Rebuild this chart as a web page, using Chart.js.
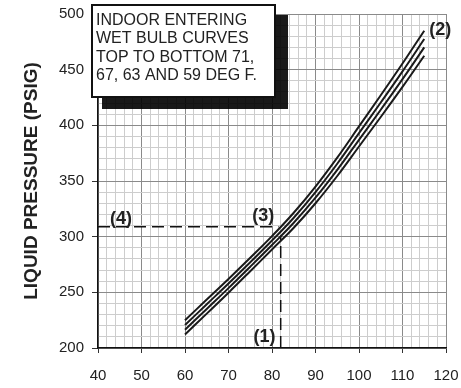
<!DOCTYPE html>
<html>
<head>
<meta charset="utf-8">
<script src="https://cdn.jsdelivr.net/npm/chart.js@4.4.1/dist/chart.umd.min.js"></script>
<style>
html, body { margin: 0; padding: 0; background: #fff; }
</style>
</head>
<body>
<canvas id="pressureChart" width="461" height="388"></canvas>
<script>
// outdoor temperature (deg F) along the bottom
var outdoorTemps = [60, 65, 70, 75, 80, 85, 90, 95, 100, 105, 110, 115];

// liquid pressure for each indoor wet bulb curve
var wb71 = [225, 243.5, 262, 281, 300.5, 321.5, 345, 371, 399, 427, 455.5, 485];
var wb67 = [220.7, 239.3, 257.9, 277, 296.5, 317, 340, 365.5, 393, 420.5, 448.5, 477.5];
var wb63 = [216.4, 235.1, 253.8, 273, 292.5, 312.5, 335, 360, 387, 414, 441.5, 470];
var wb59 = [212.1, 230.9, 249.7, 269, 288.5, 308, 330, 354.5, 381, 407.5, 434.5, 462.5];

// example reading lines
var readX = [40, 81.5];
var readY = [309, 309];
var tempX = [82, 82];
var tempY = [200, 301];

var markerText = ['(1)', '(2)', '(3)', '(4)'];
var markerX = [78.3, 118.7, 78, 45.3];
var markerY = [210, 485.5, 318.5, 316];

var noteLines = ['INDOOR ENTERING', 'WET BULB CURVES', 'TOP TO BOTTOM 71,', '67, 63 AND 59 DEG F.'];

var FONT = "'Liberation Sans', Arial, sans-serif";

function pts(xs, ys) {
    return xs.map(function (x, i) { return { x: x, y: ys[i] }; });
}

function curve(values) {
    return {
        data: pts(outdoorTemps, values),
        borderColor: '#1a1a1a',
        borderWidth: 2,
        pointRadius: 0,
        fill: false,
        tension: 0.4
    };
}

function dashed(xs, ys) {
    return {
        data: pts(xs, ys),
        borderColor: '#111',
        borderWidth: 1.5,
        borderDash: [12, 6],
        pointRadius: 0,
        fill: false
    };
}

var markers = {
    id: 'markers',
    afterDatasetsDraw: function (chart) {
        var c = chart.ctx, xs = chart.scales.x, ys = chart.scales.y;
        c.save();
        c.font = 'bold 18px ' + FONT;
        c.fillStyle = '#222';
        c.textAlign = 'center';
        c.textBaseline = 'middle';
        for (var i = 0; i < markerText.length; i++) {
            c.fillText(markerText[i], xs.getPixelForValue(markerX[i]), ys.getPixelForValue(markerY[i]));
        }
        c.restore();
    }
};

var noteBox = {
    id: 'noteBox',
    afterDraw: function (chart) {
        var c = chart.ctx, a = chart.chartArea;
        var bx = a.left - 6, by = a.top - 9, bw = 183, bh = 92;
        c.save();
        c.fillStyle = 'rgba(0,0,0,0.9)';
        c.fillRect(bx + 10, by + 10, bw + 3, bh + 2);
        c.fillStyle = '#fff';
        c.fillRect(bx, by, bw, bh);
        c.strokeStyle = '#111';
        c.lineWidth = 2;
        c.strokeRect(bx, by, bw, bh);
        c.font = '16px ' + FONT;
        c.fillStyle = '#222';
        c.textBaseline = 'alphabetic';
        for (var i = 0; i < noteLines.length; i++) {
            c.fillText(noteLines[i], bx + 4, by + 20 + i * 18.3);
        }
        c.restore();
    }
};

const ctx = document.getElementById('pressureChart').getContext('2d');
var chart = new Chart(ctx, {
    type: 'line',
    data: {
        datasets: [
            curve(wb71),
            curve(wb67),
            curve(wb63),
            curve(wb59),
            dashed(readX, readY),
            dashed(tempX, tempY)
        ]
    },
    options: {
        responsive: false,
        animation: false,
        layout: { padding: { left: 0, right: 15, top: 14, bottom: 0 } },
        plugins: {
            legend: { display: false },
            tooltip: { enabled: false }
        },
        scales: {
            x: {
                type: 'linear',
                min: 40,
                max: 120,
                afterFit: function (s) {
                    s.height = 40;
                    s.paddingLeft = 0;
                    s.paddingRight = 0;
                },
                border: { color: '#111', width: 1.5 },
                grid: {
                    tickLength: 5,
                    color: function (c) {
                        return c.tick && c.tick.value % 10 === 0 ? '#8a8a8a' : '#cdcdcd';
                    },
                    tickColor: function (c) {
                        return c.tick && c.tick.value % 10 === 0 ? '#333' : 'rgba(0,0,0,0)';
                    }
                },
                ticks: {
                    stepSize: 2,
                    autoSkip: false,
                    maxRotation: 0,
                    padding: 14,
                    color: '#222',
                    font: { family: FONT, size: 15 },
                    callback: function (v) { return v % 10 === 0 ? v : ''; }
                }
            },
            y: {
                type: 'linear',
                min: 200,
                max: 500,
                afterFit: function (s) {
                    s.width = 98;
                    s.paddingTop = 0;
                    s.paddingBottom = 0;
                },
                border: { color: '#111', width: 1.5 },
                grid: {
                    tickLength: 6,
                    color: function (c) {
                        return c.tick && c.tick.value % 50 === 0 ? '#8a8a8a' : '#cdcdcd';
                    },
                    tickColor: function (c) {
                        return c.tick && c.tick.value % 50 === 0 ? '#333' : 'rgba(0,0,0,0)';
                    }
                },
                ticks: {
                    stepSize: 10,
                    autoSkip: false,
                    padding: 8,
                    color: '#222',
                    font: { family: FONT, size: 15 },
                    callback: function (v) { return v % 50 === 0 ? v : ''; }
                },
                title: {
                    display: true,
                    text: 'LIQUID PRESSURE (PSIG)',
                    color: '#222',
                    font: { family: FONT, size: 19, weight: 'bold' },
                    padding: { top: 20, bottom: 0 }
                }
            }
        }
    },
    plugins: [markers, noteBox]
});
</script>
</body>
</html>
